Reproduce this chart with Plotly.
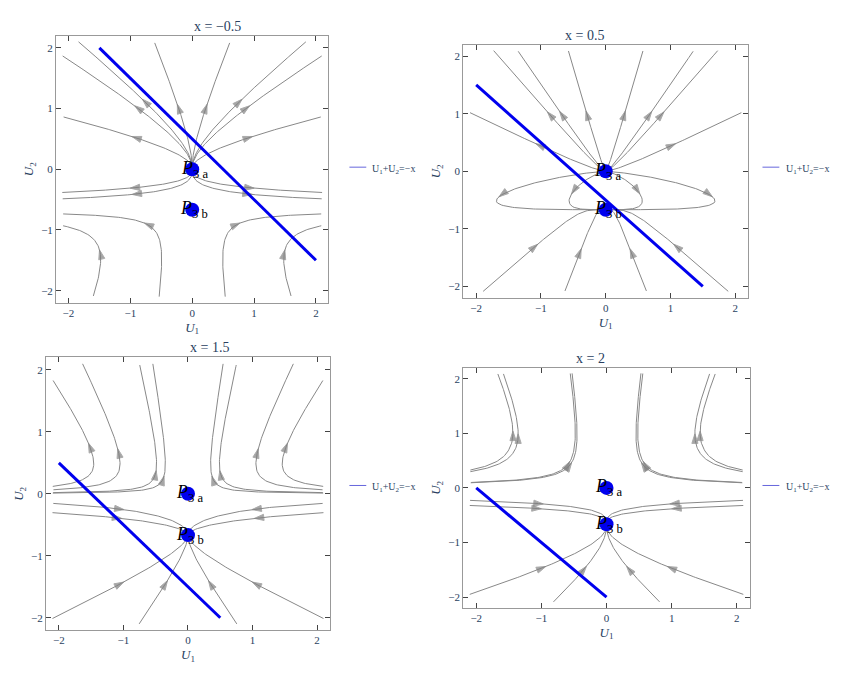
import numpy as np
import plotly.graph_objects as go

x_values = [-0.5, 0.5, 1.5, 2]
panel_titles = ["x = \u22120.5", "x = 0.5", "x = 1.5", "x = 2"]
fixed_u1 = [0, 0]
fixed_u2 = [0, -0.6667]
fixed_labels = ["<i>P</i><sub>3 a</sub>", "<i>P</i><sub>3 b</sub>"]
tick_vals = [-2, -1, 0, 1, 2]

domains = [
    ([0.057, 0.380], [0.574, 0.960]),
    ([0.540, 0.878], [0.581, 0.947]),
    ([0.045, 0.382], [0.101, 0.495]),
    ([0.540, 0.880], [0.133, 0.480]),
]
legend_pos = [(0.405, 0.77), (0.895, 0.77), (0.405, 0.31), (0.895, 0.31)]

seed_u1 = [-1.5, -0.5, 0.5, 1.5]
seed_u2 = [-1.7, -0.35, 0.7, 1.8]


def field(u1, u2, x):
    return u1 * (u2 + 1 - x), u2 * (u2 + 0.6667)


def trace_line(u1, u2, x, sign):
    pts = [(u1, u2)]
    for _ in range(160):
        a, b = field(u1, u2, x)
        s = np.hypot(a, b)
        if s < 0.02:
            break
        u1 += sign * 0.025 * a / s
        u2 += sign * 0.025 * b / s
        if abs(u1) > 2.1 or abs(u2) > 2.1:
            break
        pts.append((u1, u2))
    return pts


fig = go.Figure()
for i, x in enumerate(x_values):
    xa = "x" if i == 0 else f"x{i + 1}"
    ya = "y" if i == 0 else f"y{i + 1}"
    for s1 in seed_u1:
        for s2 in seed_u2:
            back = trace_line(s1, s2, x, -1)[::-1]
            fwd = trace_line(s1, s2, x, 1)
            pts = back + fwd[1:]
            if len(pts) < 6:
                continue
            us = [p[0] for p in pts]
            vs = [p[1] for p in pts]
            sizes = [0] * len(pts)
            sizes[len(pts) // 2] = 10
            fig.add_trace(go.Scatter(
                x=us, y=vs, mode="lines+markers", xaxis=xa, yaxis=ya,
                line=dict(color="#888888", width=1),
                marker=dict(symbol="arrow", size=sizes, color="#808080", angleref="previous"),
                showlegend=False, hoverinfo="skip"))
    lo = max(-2, -x - 2)
    hi = min(2, -x + 2)
    fig.add_trace(go.Scatter(x=[lo, hi], y=[-x - lo, -x - hi], mode="lines",
                             xaxis=xa, yaxis=ya, line=dict(color="#0000ee", width=3),
                             showlegend=False))
    fig.add_trace(go.Scatter(x=fixed_u1, y=fixed_u2, mode="markers", xaxis=xa, yaxis=ya,
                             marker=dict(color="#0000ee", size=14), showlegend=False))
    for u1, u2, lab in zip(fixed_u1, fixed_u2, fixed_labels):
        fig.add_annotation(x=u1, y=u2, xref=xa, yref=ya, text=lab, showarrow=False,
                           xanchor="center", xshift=2,
                           font=dict(family="Liberation Serif", size=18, color="black"))
    dx, dy = domains[i]
    axstyle = dict(range=[-2.2, 2.2], tickvals=tick_vals, ticks="inside", mirror="ticks",
                   showline=True, linecolor="#999999", showgrid=False, zeroline=False,
                   tickfont=dict(family="Liberation Serif", size=11))
    fig.update_layout({
        f"xaxis{'' if i == 0 else i + 1}": dict(axstyle, domain=dx, anchor=ya,
            title=dict(text="<i>U</i><sub>1</sub>", font=dict(family="Liberation Serif", size=13), standoff=4)),
        f"yaxis{'' if i == 0 else i + 1}": dict(axstyle, domain=dy, anchor=xa,
            title=dict(text="<i>U</i><sub>2</sub>", font=dict(family="Liberation Serif", size=13), standoff=4)),
    })
    fig.add_annotation(x=(dx[0] + dx[1]) / 2, y=dy[1], xref="paper", yref="paper",
                       yanchor="bottom", showarrow=False, text=panel_titles[i],
                       font=dict(family="Liberation Serif", size=14))
    lx, ly = legend_pos[i]
    fig.add_shape(type="line", xref="paper", yref="paper", x0=lx, x1=lx + 0.02, y0=ly, y1=ly,
                  line=dict(color="#6666dd", width=1))
    fig.add_annotation(x=lx + 0.025, y=ly, xref="paper", yref="paper", xanchor="left",
                       yanchor="middle", yshift=-2, showarrow=False,
                       text="U<sub>1</sub>+U<sub>2</sub>=\u2212x",
                       font=dict(family="Liberation Serif", size=10))

fig.update_layout(width=843, height=692, plot_bgcolor="white", paper_bgcolor="white",
                  margin=dict(l=0, r=0, t=0, b=0))
fig.write_html("out.html")
